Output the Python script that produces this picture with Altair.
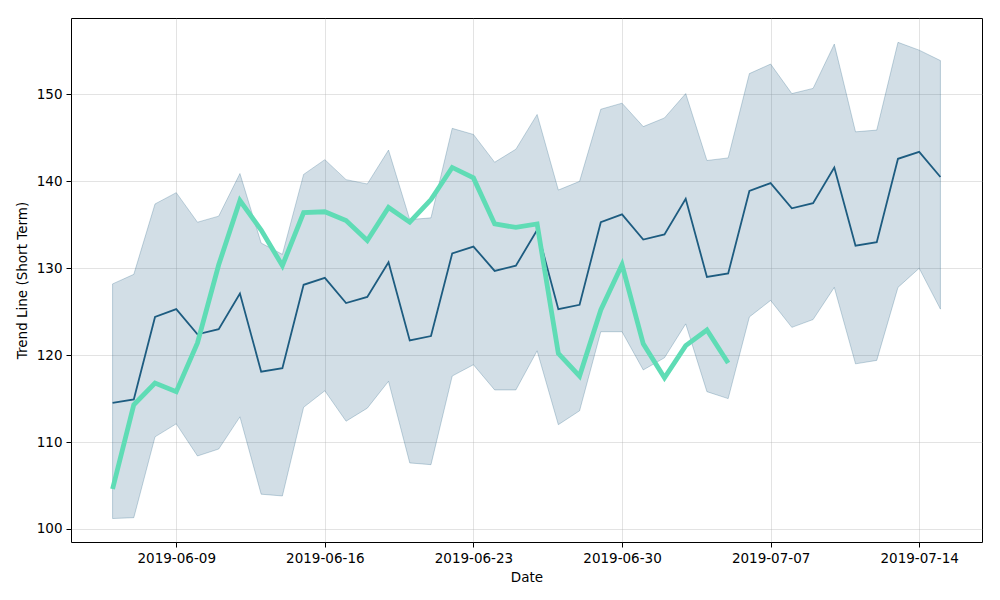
import pandas as pd
import altair as alt

# daily dates, 2019-06-06 .. 2019-07-15
dates = pd.date_range("2019-06-06", "2019-07-15", freq="D").strftime("%Y-%m-%dT00:00:00").tolist()

trend = [114.5, 114.9, 124.4, 125.3, 122.4, 123.0, 127.1, 118.1, 118.5, 128.1,
         128.9, 126.0, 126.7, 130.7, 121.7, 122.2, 131.7, 132.5, 129.7, 130.3,
         134.4, 125.3, 125.8, 135.3, 136.2, 133.3, 133.9, 138.0, 129.0, 129.4,
         138.9, 139.8, 136.9, 137.5, 141.6, 132.6, 133.0, 142.6, 143.4, 140.5]

upper = [128.2, 129.3, 137.4, 138.7, 135.3, 136.0, 140.9, 132.9, 131.6, 140.8,
         142.5, 140.2, 139.7, 143.6, 135.6, 135.8, 146.1, 145.4, 142.2, 143.7,
         147.7, 139.0, 140.0, 148.3, 149.0, 146.3, 147.3, 150.1, 142.4, 142.7,
         152.4, 153.5, 150.1, 150.7, 155.8, 145.7, 145.9, 156.0, 155.1, 153.9]

lower = [101.2, 101.3, 110.6, 112.1, 108.4, 109.2, 112.9, 104.0, 103.8, 114.0,
         115.9, 112.4, 113.9, 117.0, 107.6, 107.4, 117.6, 118.9, 116.0, 116.0,
         120.5, 112.0, 113.6, 122.7, 122.7, 118.3, 119.7, 123.6, 115.8, 115.0,
         124.4, 126.3, 123.2, 124.1, 127.8, 119.0, 119.4, 127.8, 130.0, 125.3]

# short-term actuals, first 30 days
actual = [104.6, 114.3, 116.8, 115.8, 121.4, 130.4, 137.8, 134.4, 130.3, 136.4,
          136.5, 135.5, 133.2, 137.0, 135.3, 137.9, 141.6, 140.4, 135.1, 134.7,
          135.1, 120.2, 117.6, 125.2, 130.4, 121.3, 117.4, 121.1, 122.9, 119.1]

tick_dates = ["2019-06-09", "2019-06-16", "2019-06-23", "2019-06-30", "2019-07-07", "2019-07-14"]

band = pd.DataFrame({"date": dates, "trend": trend, "upper": upper, "lower": lower})
short = pd.DataFrame({"date": dates[:len(actual)], "value": actual})

def dt(s, hours=0):
    y, m, d = [int(p) for p in s.split("-")]
    return alt.DateTime(year=y, month=m, date=d, hours=hours)

line_col = "#1d5c80"
font = "DejaVu Sans"

x_scale = alt.Scale(domain=[dt("2019-06-04", 1), dt("2019-07-16", 23)], nice=False)
y_scale = alt.Scale(domain=[98.5, 158.8], nice=False, zero=False)

x_axis = alt.Axis(title="Date", values=[dt(s) for s in tick_dates], format="%Y-%m-%d",
                  grid=True, labelFlush=False)
y_axis = alt.Axis(title="Trend Line (Short Term)", values=[100, 110, 120, 130, 140, 150],
                  grid=True)

base = alt.Chart(band).encode(x=alt.X("date:T", scale=x_scale, axis=x_axis))

area = base.mark_area(color=line_col, fillOpacity=0.2, stroke=line_col, strokeOpacity=0.25,
                      strokeWidth=1).encode(
    y=alt.Y("lower:Q", scale=y_scale, axis=y_axis),
    y2="upper:Q"
)

mid = base.mark_line(color=line_col, strokeWidth=1.8).encode(
    y=alt.Y("trend:Q", scale=y_scale)
)

green = alt.Chart(short).mark_line(color="#5fdcb5", strokeWidth=4.8).encode(
    x=alt.X("date:T", scale=x_scale),
    y=alt.Y("value:Q", scale=y_scale)
)

chart = (area + mid + green).properties(
    width=911, height=524,
    autosize=alt.AutoSizeParams(type="none"),
    padding={"left": 63, "top": 10, "right": 10, "bottom": 50},
    background="white"
).configure_view(
    stroke="black", strokeWidth=1
).configure_axis(
    labelFont=font, titleFont=font, labelFontSize=13.5, titleFontSize=13.5,
    titleFontWeight="normal", labelColor="black", titleColor="black",
    gridColor="#b0b0b0", gridOpacity=0.35, gridWidth=1,
    domain=False, tickColor="black", tickSize=5, tickWidth=1,
    labelPadding=4
).configure_axisX(titlePadding=6).configure_axisY(titlePadding=7)

chart.save("out.html", embed_options={"renderer": "svg", "actions": False})
